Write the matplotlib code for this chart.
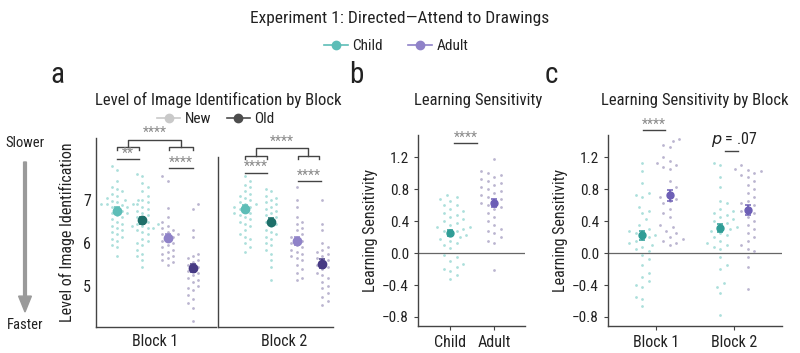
import matplotlib.pyplot as plt
from matplotlib.lines import Line2D
from matplotlib.patches import FancyArrow
import numpy as np

plt.rcParams["font.family"] = ["Roboto Condensed", "Liberation Sans Narrow", "Roboto", "DejaVu Sans"]

# ---- panel a: level of image identification (per participant) ----
a_block1_child_new = [7.8, 7.7, 7.45, 7.3, 7.25, 7.2, 7.15, 7.1, 7.05, 7.0, 7.0, 6.98, 6.95,
                      6.92, 6.9, 6.9, 6.88, 6.85, 6.85, 6.8, 6.75, 6.7, 6.7, 6.65, 6.6, 6.55,
                      6.5, 6.45, 6.4, 6.35, 6.3, 6.25, 6.2, 6.15, 6.1, 6.05, 5.95, 5.9, 5.7]
a_block1_child_old = [7.6, 7.55, 7.4, 7.3, 7.2, 7.1, 7.0, 6.95, 6.9, 6.85, 6.8, 6.75, 6.7,
                      6.65, 6.6, 6.55, 6.5, 6.45, 6.45, 6.4, 6.4, 6.35, 6.35, 6.3, 6.25, 6.2,
                      6.1, 6.05, 6.0, 5.95, 5.85, 5.75, 5.7, 5.6, 5.45]
a_block1_adult_new = [7.55, 7.45, 6.82, 6.6, 6.5, 6.4, 6.35, 6.3, 6.25, 6.2, 6.2, 6.15, 6.1,
                      6.05, 6.0, 5.95, 5.9, 5.85, 5.8, 5.75, 5.7, 5.65, 5.6, 5.55, 5.5]
a_block1_adult_old = [6.9, 6.8, 6.3, 6.15, 5.75, 5.7, 5.65, 5.6, 5.55, 5.5, 5.45, 5.4, 5.35,
                      5.3, 5.25, 5.2, 5.15, 5.1, 5.0, 4.95, 4.9, 4.8, 4.7, 4.6, 4.5, 4.2]
a_block2_child_new = [7.55, 7.45, 7.35, 7.3, 7.2, 7.15, 7.1, 7.05, 7.0, 6.95, 6.9, 6.9, 6.85,
                      6.85, 6.8, 6.75, 6.7, 6.7, 6.65, 6.6, 6.55, 6.5, 6.45, 6.4, 6.3, 6.2,
                      6.15, 6.1, 6.0, 5.9, 5.8]
a_block2_child_old = [7.25, 7.2, 7.1, 7.05, 7.0, 6.95, 6.9, 6.85, 6.8, 6.75, 6.7, 6.65, 6.6,
                      6.55, 6.5, 6.45, 6.4, 6.3, 6.25, 6.2, 6.15, 6.1, 6.0, 5.95, 5.85, 5.75,
                      5.6, 5.45, 5.15]
a_block2_adult_new = [7.3, 7.0, 6.85, 6.6, 6.5, 6.45, 6.35, 6.3, 6.2, 6.15, 6.1, 6.05, 6.0,
                      5.95, 5.9, 5.85, 5.8, 5.75, 5.7, 5.65, 5.6, 5.5, 5.4, 5.3, 5.2, 5.15]
a_block2_adult_old = [7.0, 6.45, 6.3, 6.0, 5.9, 5.85, 5.8, 5.75, 5.7, 5.65, 5.6, 5.55, 5.5,
                      5.45, 5.4, 5.3, 5.25, 5.2, 5.1, 5.0, 4.95, 4.85, 4.75, 4.65, 4.55]

a_means_block1 = [6.75, 6.53, 6.13, 5.42]
a_errors_block1 = [0.08, 0.08, 0.09, 0.10]
a_means_block2 = [6.80, 6.50, 6.05, 5.52]
a_errors_block2 = [0.08, 0.09, 0.10, 0.10]

# ---- panel b: learning sensitivity ----
b_child = [0.73, 0.7, 0.68, 0.65, 0.6, 0.6, 0.55, 0.52, 0.5, 0.48, 0.45, 0.42, 0.4, 0.38,
           0.35, 0.33, 0.32, 0.3, 0.28, 0.27, 0.25, 0.22, 0.2, 0.18, 0.15, 0.12, 0.1, 0.06,
           -0.03, -0.05, -0.1, -0.14, -0.17, -0.2, -0.22, -0.28, -0.33]
b_adult = [1.17, 1.03, 1.0, 0.98, 0.95, 0.92, 0.9, 0.88, 0.85, 0.82, 0.8, 0.78, 0.75, 0.72,
           0.7, 0.68, 0.65, 0.62, 0.6, 0.58, 0.55, 0.5, 0.45, 0.4, 0.35, 0.3, 0.28, 0.25,
           0.2, 0.15, 0.13, -0.21]
b_means = [0.25, 0.63]
b_errors = [0.04, 0.05]

# ---- panel c: learning sensitivity by block ----
c_block1_child = [1.13, 1.03, 0.87, 0.75, 0.73, 0.7, 0.58, 0.52, 0.5, 0.42, 0.35, 0.3, 0.28,
                  0.27, 0.25, 0.22, 0.2, 0.18, 0.15, 0.12, 0.1, 0.08, 0.05, 0.02, -0.02,
                  -0.08, -0.15, -0.25, -0.3, -0.35, -0.4, -0.42, -0.55, -0.57, -0.66]
c_block1_adult = [1.42, 1.4, 1.35, 1.32, 1.2, 1.15, 1.13, 1.1, 1.08, 1.05, 0.9, 0.82, 0.75,
                  0.7, 0.68, 0.65, 0.62, 0.55, 0.5, 0.45, 0.35, 0.33, 0.28, 0.25, 0.2, 0.18,
                  0.15, 0.12, 0.1]
c_block2_child = [1.13, 1.1, 0.95, 0.82, 0.65, 0.62, 0.55, 0.52, 0.5, 0.48, 0.45, 0.42, 0.4,
                  0.38, 0.35, 0.32, 0.3, 0.28, 0.25, 0.22, 0.2, 0.15, 0.12, 0.1, 0.08, 0.05,
                  -0.05, -0.15, -0.2, -0.38, -0.42, -0.5, -0.78]
c_block2_adult = [1.1, 1.05, 1.04, 1.02, 1.0, 0.98, 0.95, 0.9, 0.85, 0.8, 0.75, 0.7, 0.65,
                  0.62, 0.6, 0.55, 0.52, 0.5, 0.45, 0.4, 0.35, 0.3, 0.25, 0.2, 0.15, 0.1,
                  0.05, 0.02, -0.05, -0.18, -0.45]
c_means_child = [0.22, 0.31]
c_errors_child = [0.06, 0.05]
c_means_adult = [0.72, 0.54]
c_errors_adult = [0.07, 0.06]

BLOCK_LABELS = ["Block 1", "Block 2"]
GROUP_LABELS = ["Child", "Adult"]

CHILD = "#5dbdb7"
CHILD_DARK = "#1d6f69"
ADULT = "#8f82c8"
ADULT_DARK = "#473a84"
CHILD_PTS = "#a3dcd8"
ADULT_PTS = "#b3adcb"
SPINE = "#444444"
TEXT = "#222222"
STAR = "#8a8a8a"


def swarm_x(values, center, px_per_x, px_per_y, gap):
    # simple beeswarm: place points in value order, nearest free slot to the centre
    placed = []
    xs = [0.0] * len(values)
    for n, i in enumerate(np.argsort(values)):
        y = values[i] * px_per_y
        step = 0
        while True:
            if step == 0:
                offs = [0.0]
            elif n % 2:
                offs = [step * gap / 2, -step * gap / 2]
            else:
                offs = [-step * gap / 2, step * gap / 2]
            free = [o for o in offs
                    if all((o - px) ** 2 + (y - py) ** 2 >= gap ** 2 for px, py in placed)]
            if free:
                break
            step += 1
        placed.append((free[0], y))
        xs[i] = center + free[0] / px_per_x
    return xs


def draw_points(ax, values, center, color, px_x, px_y, gap=6.5):
    xs = swarm_x(values, center, px_x, px_y, gap)
    ax.scatter(xs, values, s=4, color=color, alpha=0.9, linewidths=0, zorder=2)


def draw_mean(ax, x, mean, err, color, size=6):
    ax.errorbar([x], [mean], yerr=[err], fmt="o", color=color, ms=size,
                elinewidth=1.3, capsize=2, capthick=1.1, zorder=4)


def style_axes(ax):
    for side in ["top", "right"]:
        ax.spines[side].set_visible(False)
    for side in ["left", "bottom"]:
        ax.spines[side].set_color(SPINE)
        ax.spines[side].set_linewidth(1.0)
    ax.tick_params(colors=SPINE, labelcolor=TEXT, labelsize=10.5, length=3, width=0.8)


def sig_line(ax, x0, x1, y, label, dy, fontsize=10):
    ax.plot([x0, x1], [y, y], color=SPINE, lw=1.0, clip_on=False)
    ax.text((x0 + x1) / 2, y + dy, label, ha="center", va="bottom", color=STAR,
            fontsize=fontsize, clip_on=False)


def bracket(ax, left, right, y_low, y_high, tick, label, dy):
    for x0, x1 in [left, right]:
        ax.plot([x0, x0, x1, x1], [y_low - tick, y_low, y_low, y_low - tick],
                color=SPINE, lw=1.0, clip_on=False)
    lc = (left[0] + left[1]) / 2
    rc = (right[0] + right[1]) / 2
    ax.plot([lc, lc, rc, rc], [y_low, y_high, y_high, y_low], color=SPINE, lw=1.0,
            clip_on=False)
    ax.text((lc + rc) / 2, y_high + dy, label, ha="center", va="bottom", color=STAR,
            fontsize=10, clip_on=False)


fig = plt.figure(figsize=(8, 3.53), dpi=100)

# ---- panel a ----
a1 = fig.add_axes([0.12, 0.0737, 0.15, 0.535])
a2 = fig.add_axes([0.2725, 0.0737, 0.144, 0.535])
a_sets = [
    (a1, [a_block1_child_new, a_block1_child_old, a_block1_adult_new, a_block1_adult_old],
     a_means_block1, a_errors_block1, (0.17, 4.91)),
    (a2, [a_block2_child_new, a_block2_child_old, a_block2_adult_new, a_block2_adult_old],
     a_means_block2, a_errors_block2, (-0.05, 4.42)),
]
pt_colors = [CHILD_PTS, CHILD_PTS, ADULT_PTS, ADULT_PTS]
mean_colors = [CHILD, CHILD_DARK, ADULT, ADULT_DARK]
for k, (ax, groups, means, errs, xlim) in enumerate(a_sets):
    for j, vals in enumerate(groups):
        draw_points(ax, vals, j + 1, pt_colors[j], 25.3, 43, gap=5.2)
        draw_mean(ax, j + 1, means[j], errs[j], mean_colors[j], size=6)
    ax.set_xlim(*xlim)
    ax.set_ylim(4.05, 8.44)
    style_axes(ax)
    ax.set_xticks([2.5])
    ax.set_xticklabels([BLOCK_LABELS[k]], fontsize=11.5)
    ax.tick_params(axis="x", length=0, pad=5)
    ax.set_yticks([5, 6, 7])
a1.tick_params(axis="y", length=0, labelsize=11.5)
a1.set_ylabel("Level of Image Identification", fontsize=11.5, color=TEXT, labelpad=6)
a2.tick_params(axis="y", length=0, labelleft=False)
a2.spines["left"].set_bounds(4.05, 8.0)

sig_line(a1, 1.0, 1.85, 7.95, "**", -0.03)
sig_line(a1, 3.05, 4.0, 7.74, "****", -0.03)
bracket(a1, (1.0, 1.85), (3.05, 4.0), 8.23, 8.40, 0.07, "****", -0.01)
sig_line(a2, 1.0, 1.85, 7.63, "****", -0.03)
sig_line(a2, 3.04, 3.93, 7.44, "****", -0.03)
bracket(a2, (1.0, 1.85), (3.04, 3.85), 8.02, 8.21, 0.07, "****", -0.01)

fig.text(218 / 800, 1 - 100 / 353, "Level of Image Identification by Block",
         ha="center", va="center", fontsize=12, color=TEXT)
new_old = [
    Line2D([], [], color="#c9c9c9", marker="o", ms=6, lw=1.2),
    Line2D([], [], color="#4d4d4d", marker="o", ms=6, lw=1.2),
]
fig.legend(new_old, ["New", "Old"], loc="center", bbox_to_anchor=(216 / 800, 1 - 119 / 353),
           ncol=2, frameon=False, fontsize=11, handlelength=1.5, columnspacing=1.0,
           handletextpad=0.3, labelcolor=TEXT)

fig.text(25 / 800, 1 - 143 / 353, "Slower", ha="center", va="center", fontsize=10.5, color=TEXT)
fig.text(25 / 800, 1 - 325 / 353, "Faster", ha="center", va="center", fontsize=10.5, color=TEXT)
fig.patches.append(FancyArrow(
    25 / 800, 1 - 162 / 353, 0, -(150 / 353), width=0.0035, head_width=0.016,
    head_length=0.045, length_includes_head=True, color="#9a9a9a",
    transform=fig.transFigure, figure=fig))

# ---- panel b ----
b = fig.add_axes([0.5225, 0.0765, 0.134, 0.541])
draw_points(b, b_child, 1, CHILD_PTS, 44, 80)
draw_points(b, b_adult, 2, ADULT_PTS, 44, 80)
b.axhline(0, color="#666666", lw=0.9, zorder=1)
draw_mean(b, 1, b_means[0], b_errors[0], "#2f9d96", size=5)
draw_mean(b, 2, b_means[1], b_errors[1], "#6d5fb6", size=5)
b.set_xlim(0.27, 2.7)
b.set_ylim(-0.9125, 1.475)
style_axes(b)
b.set_xticks([1, 2])
b.set_xticklabels(GROUP_LABELS, fontsize=11.5)
b.set_yticks([-0.8, -0.4, 0.0, 0.4, 0.8, 1.2])
b.set_yticklabels(["\u22120.8", "\u22120.4", "0.0", "0.4", "0.8", "1.2"], fontsize=11)
b.set_ylabel("Learning Sensitivity", fontsize=11.5, color=TEXT, labelpad=3)
sig_line(b, 1.09, 1.61, 1.375, "****", -0.02)
fig.text(478 / 800, 1 - 100 / 353, "Learning Sensitivity", ha="center", va="center",
         fontsize=12, color=TEXT)

# ---- panel c ----
c = fig.add_axes([0.76, 0.0765, 0.2175, 0.541])
c_child = [c_block1_child, c_block2_child]
c_adult = [c_block1_adult, c_block2_adult]
for i in range(2):
    draw_points(c, c_child[i], i + 1 - 0.175, CHILD_PTS, 78, 80)
    draw_points(c, c_adult[i], i + 1 + 0.175, ADULT_PTS, 78, 80)
c.axhline(0, color="#666666", lw=0.9, zorder=1)
for i in range(2):
    draw_mean(c, i + 1 - 0.175, c_means_child[i], c_errors_child[i], "#2f9d96", size=5)
    draw_mean(c, i + 1 + 0.175, c_means_adult[i], c_errors_adult[i], "#6d5fb6", size=5)
c.set_xlim(0.385, 2.615)
c.set_ylim(-0.9125, 1.475)
style_axes(c)
c.set_xticks([1, 2])
c.set_xticklabels(BLOCK_LABELS, fontsize=11.5)
c.set_yticks([-0.8, -0.4, 0.0, 0.4, 0.8, 1.2])
c.set_yticklabels(["\u22120.8", "\u22120.4", "0.0", "0.4", "0.8", "1.2"], fontsize=11)
c.set_ylabel("Learning Sensitivity", fontsize=11.5, color=TEXT, labelpad=3)
sig_line(c, 0.834, 1.116, 1.54, "****", -0.02)
c.plot([1.885, 2.05], [1.275, 1.275], color=SPINE, lw=1.0, clip_on=False)
c.text(2.0, 1.3, "$\\it{p}$ = .07", ha="center", va="bottom", fontsize=11.5,
       color=TEXT, clip_on=False)
fig.text(695 / 800, 1 - 100 / 353, "Learning Sensitivity by Block", ha="center",
         va="center", fontsize=12, color=TEXT)

# ---- panel letters, title, legend ----
fig.text(57 / 800, 1 - 75 / 353, "a", ha="center", va="center", fontsize=21, color="#222222")
fig.text(356 / 800, 1 - 75 / 353, "b", ha="center", va="center", fontsize=21, color="#222222")
fig.text(551 / 800, 1 - 75 / 353, "c", ha="center", va="center", fontsize=21, color="#222222")

fig.text(0.5, 1 - 18 / 353, "Experiment 1: Directed\u2014Attend to Drawings", ha="center",
         va="center", fontsize=12.5, color=TEXT)
groups = [
    Line2D([], [], color=CHILD, marker="o", ms=6, lw=1.2),
    Line2D([], [], color=ADULT, marker="o", ms=6, lw=1.2),
]
fig.legend(groups, GROUP_LABELS, loc="center", bbox_to_anchor=(396 / 800, 1 - 46 / 353),
           ncol=2, frameon=False, fontsize=11, handlelength=1.6, columnspacing=1.6,
           handletextpad=0.3, labelcolor=TEXT)

fig.savefig("out.png", dpi=100)
